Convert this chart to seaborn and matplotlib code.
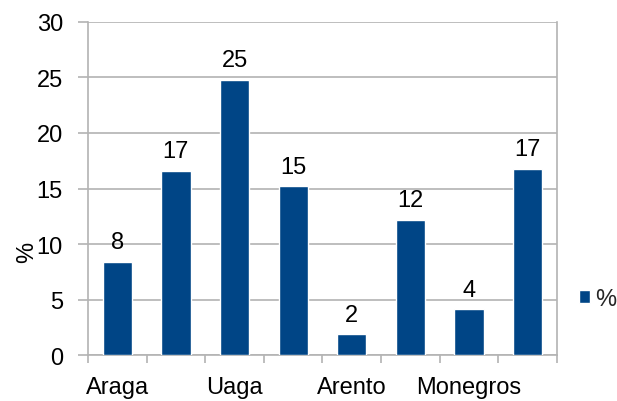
import numpy as np
import pandas as pd
import matplotlib
matplotlib.use("Agg")
import matplotlib.pyplot as plt
from matplotlib.patches import Patch
import seaborn as sns

# data (only every other category name is visible)
categories = ["Araga", "cat2", "Uaga", "cat4", "Arento", "cat6", "Monegros", "cat8"]
shown_labels = ["Araga", "", "Uaga", "", "Arento", "", "Monegros", ""]
values = [8.4, 16.6, 24.8, 15.2, 1.85, 12.2, 4.15, 16.8]
value_labels = ["8", "17", "25", "15", "2", "12", "4", "17"]
series_name = "%"

df = pd.DataFrame({"cat": categories, "val": values})

sns.set_theme(style="white")
plt.rcParams["font.family"] = ["Liberation Sans", "DejaVu Sans"]

blue = "#004586"
grid_c = "#b3b3b3"
fs = 17

fig = plt.figure(figsize=(6.17, 4.02), dpi=100)
ax = fig.add_axes([0.1426, 0.1144, 0.9027 - 0.1426, 0.9428 - 0.1144])

sns.barplot(data=df, x="cat", y="val", order=categories, color=blue,
            width=0.5, saturation=1, ax=ax, zorder=3)

ax.set_xlim(-0.5, len(categories) - 0.5)
ax.set_ylim(0, 30)
ax.set_yticks(np.arange(0, 31, 5))
ax.yaxis.grid(True, color=grid_c, linewidth=1.2, zorder=0)
ax.tick_params(axis="y", labelsize=fs, length=7, width=1.2, color=grid_c,
               pad=11, left=True, labelcolor="black")

# category boundaries carry the tick marks, names sit on minor ticks
ax.set_xticks(np.arange(-0.5, len(categories), 1.0))
ax.set_xticklabels([])
ax.set_xticks(np.arange(len(categories)), minor=True)
ax.set_xticklabels(shown_labels, minor=True)
ax.tick_params(axis="x", which="major", length=6, width=1.2, color=grid_c,
               bottom=True, direction="out")
ax.tick_params(axis="x", which="minor", length=0, labelsize=fs, pad=15,
               labelcolor="black")

for s in ["left", "right", "bottom"]:
    ax.spines[s].set_color(grid_c)
    ax.spines[s].set_linewidth(1.2)
ax.spines["top"].set_visible(False)

for i, (v, lab) in enumerate(zip(values, value_labels)):
    ax.annotate(lab, (i, v), xytext=(0, 6), textcoords="offset points",
                ha="center", va="bottom", fontsize=fs, color="black")

ax.set_xlabel("")
ax.set_ylabel("%", fontsize=fs, color="black")
ax.yaxis.set_label_coords(-0.106, 0.31)

fig.legend(handles=[Patch(facecolor=blue, label=series_name)],
           loc="center left", bbox_to_anchor=(579 / 617, 1 - 300 / 402),
           frameon=False, fontsize=fs, handlelength=0.47, handleheight=0.47,
           handletextpad=0.2, borderaxespad=0, borderpad=0)

fig.savefig("out.png", dpi=100)
